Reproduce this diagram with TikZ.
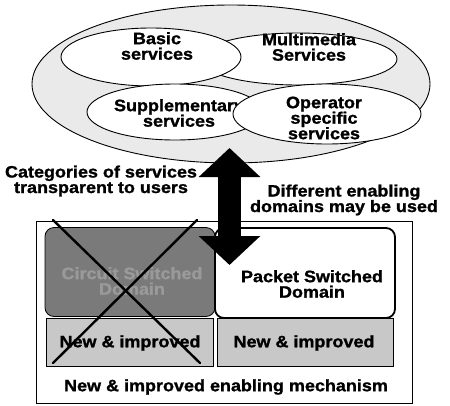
\documentclass[tikz,border=0pt]{standalone}
\usepackage{fontspec}
\setmainfont{Liberation Sans}[FakeStretch=1.09, FakeBold=1.2]
\usetikzlibrary{shapes.geometric,arrows.meta}
\definecolor{outerfill}{HTML}{EAEAEA}
\definecolor{darkbox}{HTML}{7A7A7A}
\definecolor{darktext}{HTML}{9A9A9A}
\definecolor{lightbox}{HTML}{C8C8C8}
\begin{document}
\begin{tikzpicture}[x=1pt,y=-1pt,
  ell/.style={ellipse, draw, line width=0.9pt, fill=white, inner sep=0pt},
  lbl/.style={font=\fontsize{16.5}{15.5}\selectfont\bfseries, align=center, inner sep=0pt},
  rbox/.style={draw, rounded corners=9pt, inner sep=0pt},
  sbox/.style={draw, line width=0.6pt, fill=lightbox, inner sep=0pt},
  crossline/.style={line width=2.4pt, line cap=round}]
\useasboundingbox (0,0) rectangle (450,405);
% service ellipses
\node[ellipse, draw, line width=0.9pt, fill=outerfill, inner sep=0pt,
      minimum width=398pt, minimum height=158pt] (outer) at (231,84) {};
\node[ell, minimum width=198pt, minimum height=52pt] (multE) at (298,59) {};
\node[ell, minimum width=180pt, minimum height=58pt] (basicE) at (151,57) {};
\node[ell, minimum width=176pt, minimum height=56pt] (suppE) at (175,112) {};
\node[lbl] (suppT) at (179,113) {Supplementary\\services};
\node[ell, minimum width=188pt, minimum height=60pt] (operE) at (327,114) {};
\node[lbl] (operT) at (324,118) {Operator\\specific\\services};
\node[lbl] (basicT) at (157,46) {Basic\\services};
\node[lbl] (multT) at (309,47) {Multimedia\\Services};
% side labels
\node[lbl] (catT) at (101,181) {Categories of services\\transparent to users};
\node[lbl] (diffT) at (344,200) {Different enabling\\domains may be used};
% enabling mechanism frame
\node[draw, line width=0.8pt, minimum width=376pt, minimum height=182pt, inner sep=0pt] (frame) at (224,312) {};
\node[rbox, fill=darkbox, line width=0.8pt, minimum width=170pt, minimum height=89pt] (csBox) at (130,272) {};
\node[lbl, text=darktext] (csT) at (132,281) {Circuit Switched\\Domain};
\node[rbox, fill=white, line width=1.8pt, minimum width=180pt, minimum height=90pt] (psBox) at (305,273) {};
\node[lbl] (psT) at (312,284) {Packet Switched\\Domain};
\node[sbox, minimum width=167pt, minimum height=48pt] (niL) at (129.5,342) {};
\node[lbl] (niLT) at (130,343) {New \& improved};
\node[sbox, minimum width=176pt, minimum height=48pt] (niR) at (305,342) {};
\node[lbl] (niRT) at (304,343) {New \& improved};
\node[lbl] (mechT) at (226,387) {New \& improved enabling mechanism};
% cross over circuit switched domain
\coordinate (xa) at (53,220);
\coordinate (xb) at (200,363);
\coordinate (xc) at (197,220);
\coordinate (xd) at (53,363);
\draw[crossline] (xa) -- (xb);
\draw[crossline] (xc) -- (xd);
% big double arrow
\coordinate (arrTop) at (229.5,148);
\coordinate (arrBot) at (229.5,265);
\draw[line width=23pt, {Triangle[width=60pt,length=29pt]}-{Triangle[width=60pt,length=29pt]}] (arrTop) -- (arrBot);
\end{tikzpicture}
\end{document}
